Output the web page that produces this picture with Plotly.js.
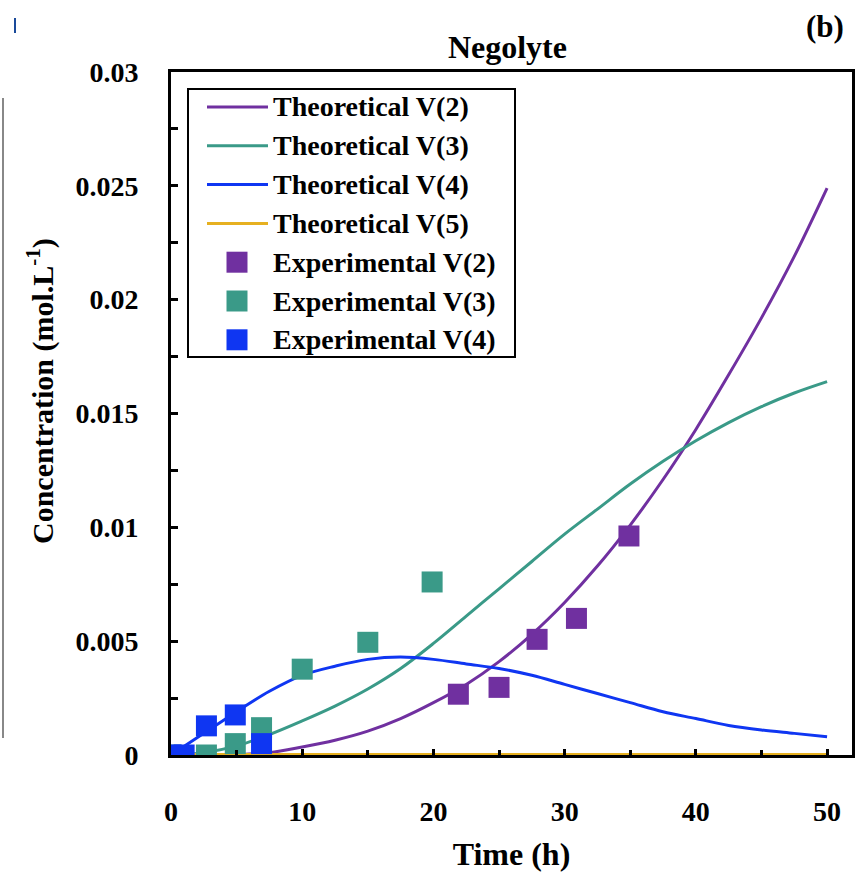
<!DOCTYPE html>
<html>
<head>
<meta charset="utf-8">
<script src="https://cdn.plot.ly/plotly-3.0.1.min.js"></script>
<style>html,body{margin:0;padding:0;background:#fff;}</style>
</head>
<body>
<div id="chart" style="width:863px;height:872px;"></div>
<script>
// ---- Data ----
const theoT = [0, 2.5, 5, 7.5, 10, 12.5, 15, 17.5, 20, 22.5, 25, 27.5, 30, 32.5, 35, 37.5, 40, 42.5, 45, 47.5, 50];
const theoV2 = [0, 0, 0.00002, 0.0001, 0.00035, 0.00065, 0.00105, 0.0016, 0.0023, 0.0031, 0.0041, 0.0053, 0.0067, 0.0083, 0.0101, 0.0121, 0.0143, 0.0167, 0.0192, 0.0219, 0.0249];
const theoV3 = [0, 0.0001, 0.0004, 0.0009, 0.0015, 0.00215, 0.0029, 0.0038, 0.0049, 0.0061, 0.0073, 0.0085, 0.0097, 0.0108, 0.0119, 0.0129, 0.0138, 0.0146, 0.0153, 0.0159, 0.0164];
const theoV4 = [0, 0.00095, 0.0019, 0.0028, 0.0035, 0.0039, 0.0042, 0.0043, 0.0042, 0.0040, 0.0038, 0.0035, 0.0031, 0.0027, 0.0023, 0.0019, 0.0016, 0.0013, 0.0011, 0.00095, 0.0008];
const theoV5 = [0, 0, 0, 0, 0, 0, 0, 0, 0, 0, 0, 0, 0, 0, 0, 0, 0, 0, 0, 0, 0];

const expT2 = [21.9, 25.0, 27.9, 30.9, 34.9];
const expV2 = [0.00267, 0.00297, 0.00508, 0.0060, 0.00962];

const expT3 = [0, 2.7, 4.9, 6.9, 10.0, 15.0, 19.9];
const expV3 = [0, 0, 0.0005, 0.0012, 0.00377, 0.00495, 0.0076];

const expT4 = [0, 1.0, 2.7, 4.9, 6.9];
const expV4 = [0, 0, 0.00128, 0.00176, 0.0005];

const xTickVals = [0, 10, 20, 30, 40, 50];
const xTickText = ['0', '10', '20', '30', '40', '50'];
const yTickVals = [0, 0.005, 0.01, 0.015, 0.02, 0.025, 0.03];
const yTickText = ['0', '0.005', '0.01', '0.015', '0.02', '0.025', '0.03'];

const seriesNames = ['Theoretical V(2)', 'Theoretical V(3)', 'Theoretical V(4)', 'Theoretical V(5)',
                     'Experimental V(2)', 'Experimental V(3)', 'Experimental V(4)'];

// ---- Styles ----
const purple = '#7030A0', teal = '#3A9A88', blue = '#0F36F2', gold = '#E6B020';
const seriesColors = [purple, teal, blue, gold, purple, teal, blue];
const seriesIsLine = [true, true, true, true, false, false, false];
const FONT = 'Liberation Serif, Times New Roman, serif';

function lineTrace(x, y, name, color, w) {
  return {x: x, y: y, name: name, type: 'scatter', mode: 'lines',
          line: {color: color, width: w, shape: 'spline', smoothing: 1.0}};
}
function markTrace(x, y, name, color) {
  return {x: x, y: y, name: name, type: 'scatter', mode: 'markers',
          marker: {symbol: 'square', size: 21, color: color, line: {width: 0}}};
}

const traces = [
  lineTrace(theoT, theoV2, seriesNames[0], purple, 3),
  lineTrace(theoT, theoV3, seriesNames[1], teal, 3),
  lineTrace(theoT, theoV4, seriesNames[2], blue, 3),
  lineTrace(theoT, theoV5, seriesNames[3], gold, 4),
  markTrace(expT2, expV2, seriesNames[4], purple),
  markTrace(expT3, expV3, seriesNames[5], teal),
  markTrace(expT4, expV4, seriesNames[6], blue)
];

// ---- Plot-area geometry (pixels) used for the hand-placed legend ----
const PL = 171, PR = 852, PT = 72, PB = 755;
const px = v => (v - PL) / (PR - PL);
const py = v => (PB - v) / (PB - PT);

const shapes = [
  // legend box
  {type: 'rect', xref: 'paper', yref: 'paper', x0: px(188), x1: px(515), y0: py(357), y1: py(89),
   line: {color: '#000', width: 2}, fillcolor: '#fff', layer: 'above'},
  // scan artefacts at the left edge of the reference picture
  {type: 'line', xref: 'paper', yref: 'paper', x0: px(3), x1: px(3), y0: py(738), y1: py(98),
   line: {color: '#888', width: 2}},
  {type: 'line', xref: 'paper', yref: 'paper', x0: px(15), x1: px(15), y0: py(33), y1: py(18),
   line: {color: '#1a4a9a', width: 2}}
];
const annotations = [
  {text: '(b)', xref: 'paper', yref: 'paper', x: px(846), y: py(27), xanchor: 'right', yanchor: 'middle',
   showarrow: false, font: {family: FONT, size: 31, weight: 'bold', color: '#000'}},
  {text: 'Concentration (mol.L<sup>-1</sup>)', xref: 'paper', yref: 'paper', x: px(40), y: py(391),
   xanchor: 'center', yanchor: 'middle', textangle: -90, showarrow: false,
   font: {family: FONT, size: 30, weight: 'bold', color: '#000'}}
];
seriesNames.forEach((name, i) => {
  const yc = 107 + i * 38.8;
  if (seriesIsLine[i]) {
    shapes.push({type: 'line', xref: 'paper', yref: 'paper', x0: px(207), x1: px(268), y0: py(yc), y1: py(yc),
                 line: {color: seriesColors[i], width: 3}, layer: 'above'});
  } else {
    shapes.push({type: 'rect', xref: 'paper', yref: 'paper', x0: px(226.5), x1: px(247.5), y0: py(yc + 10.5), y1: py(yc - 10.5),
                 line: {width: 0}, fillcolor: seriesColors[i], layer: 'above'});
  }
  annotations.push({text: name, xref: 'paper', yref: 'paper', x: px(271), y: py(yc), xanchor: 'left', yanchor: 'middle',
                    showarrow: false, font: {family: FONT, size: 28, weight: 'bold', color: '#000'}});
});

const layout = {
  width: 863, height: 872,
  margin: {l: PL, r: 863 - PR, t: PT, b: 872 - PB, pad: 0},
  paper_bgcolor: '#fff', plot_bgcolor: '#fff',
  font: {family: FONT, color: '#000', size: 22, weight: 'bold'},
  title: {text: 'Negolyte', font: {family: FONT, size: 32, weight: 'bold', color: '#000'},
          x: 0.494, xref: 'paper', xanchor: 'center', y: 0.946, yanchor: 'middle'},
  showlegend: false,
  xaxis: {range: [0, 51.9], showgrid: false, zeroline: false,
          showline: true, linecolor: '#000', linewidth: 3, mirror: true,
          tickmode: 'array', tickvals: xTickVals, ticktext: xTickText,
          ticks: 'inside', ticklen: 6, tickwidth: 3, tickcolor: '#000',
          minor: {dtick: 5, tick0: 0, ticks: 'inside', ticklen: 5, tickwidth: 3, tickcolor: '#000'},
          tickfont: {family: FONT, size: 28, weight: 'bold', color: '#000'},
          ticklabelstandoff: 29,
          title: {text: 'Time (h)', font: {family: FONT, size: 32, weight: 'bold', color: '#000'}, standoff: 25}},
  yaxis: {range: [0, 0.03], showgrid: false, zeroline: false,
          showline: true, linecolor: '#000', linewidth: 3, mirror: true,
          tickmode: 'array', tickvals: yTickVals, ticktext: yTickText,
          ticks: 'inside', ticklen: 7, tickwidth: 3, tickcolor: '#000',
          minor: {dtick: 0.0025, tick0: 0, ticks: 'inside', ticklen: 7, tickwidth: 3, tickcolor: '#000'},
          tickfont: {family: FONT, size: 28, weight: 'bold', color: '#000'},
          ticklabelstandoff: 24},
  annotations: annotations,
  shapes: shapes
};

Plotly.newPlot('chart', traces, layout, {displayModeBar: false, staticPlot: true});
</script>
</body>
</html>
